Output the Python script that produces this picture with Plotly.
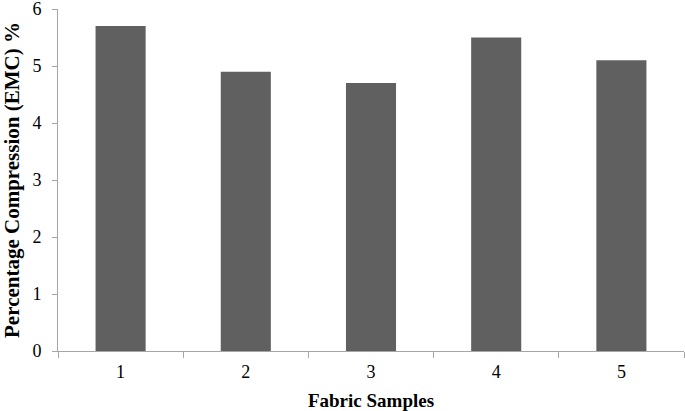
import plotly.graph_objects as go

samples = ["1", "2", "3", "4", "5"]
compression = [5.7, 4.9, 4.7, 5.5, 5.1]
y_ticks = [0, 1, 2, 3, 4, 5, 6]

fig = go.Figure(go.Bar(x=samples, y=compression, marker=dict(color="#606060", line=dict(width=0)), width=0.4))

font = dict(family="Liberation Serif, Times New Roman, serif", size=18, color="#000000")
fig.update_layout(
    width=685, height=411,
    margin=dict(l=58, r=1, t=9, b=60),
    plot_bgcolor="white", paper_bgcolor="white",
    font=font, showlegend=False, bargap=0.6,
)
fig.update_xaxes(
    type="category", showline=True, linecolor="#a6a6a6", linewidth=1,
    ticks="outside", tickson="boundaries", ticklen=6, tickcolor="#a6a6a6",
    showgrid=False, automargin=False, ticklabelstandoff=4, ticklabeloverflow="allow",
    title=dict(text="<b>Fabric Samples</b>", font=dict(size=19), standoff=18),
    tickfont=dict(size=18),
)
fig.update_yaxes(
    range=[0, 6], tickvals=y_ticks, showline=True, linecolor="#a6a6a6", linewidth=1,
    ticks="outside", ticklen=5, tickcolor="#a6a6a6", showgrid=False, zeroline=False,
    automargin=False, ticklabelstandoff=7, ticklabeloverflow="allow",
    title=dict(text="<b>Percentage Compression (EMC) %</b>", font=dict(size=21), standoff=13),
    tickfont=dict(size=18),
)
fig.write_html("out.html", config={"displayModeBar": False},
               post_script="document.body.style.margin='0';")
